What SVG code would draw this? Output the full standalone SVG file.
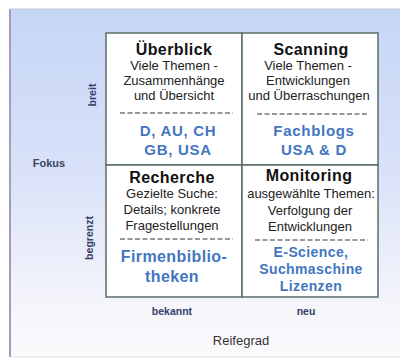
<svg xmlns="http://www.w3.org/2000/svg" width="400" height="359" viewBox="0 0 400 359">
  <defs>
    <linearGradient id="bg" x1="0" y1="0" x2="0" y2="1">
      <stop offset="0" stop-color="#c6d6f6"/>
      <stop offset="0.45" stop-color="#d8e1f8"/>
      <stop offset="0.85" stop-color="#f5f5fb"/>
      <stop offset="1" stop-color="#fbfafc"/>
    </linearGradient>
    <style>
      .title { font-family: "Liberation Sans", Arial, sans-serif; font-weight: bold; font-size: 16px; fill: #111; text-anchor: middle; letter-spacing: 0.4px; }
      .body { font-family: "Liberation Sans", Arial, sans-serif; font-size: 13px; fill: #222; text-anchor: middle; }
      .src { font-family: "Liberation Sans", Arial, sans-serif; font-weight: bold; fill: #4376bf; text-anchor: middle; }
      .axis { font-family: "Liberation Sans", Arial, sans-serif; font-weight: bold; font-size: 10.5px; fill: #37406a; text-anchor: middle; }
      .sep { stroke: #333; stroke-width: 1; stroke-dasharray: 5 2.5; }
      .cell { fill: #fff; stroke: #5a6c68; stroke-width: 1.5; }
    </style>
  </defs>

  <!-- frame background -->
  <rect x="10" y="9" width="392" height="348" fill="url(#bg)"/>
  <line x1="10" y1="9" x2="10" y2="357" stroke="#a49cbc" stroke-width="2"/>
  <line x1="10" y1="9" x2="400" y2="9" stroke="#c8c6d6" stroke-width="1"/>
  <line x1="10" y1="357" x2="400" y2="357" stroke="#e4e2ea" stroke-width="1"/>

  <!-- axis labels -->
  <g id="axes">
    <text class="axis" transform="translate(96,95) rotate(-90)">breit</text>
    <text class="axis" transform="translate(93,238) rotate(-90)">begrenzt</text>
    <text class="axis" x="49" y="167" style="font-size:11px;fill:#3c4660">Fokus</text>
    <text class="axis" x="172" y="315">bekannt</text>
    <text class="axis" x="306" y="315">neu</text>
    <text x="241" y="345" text-anchor="middle" font-family="Liberation Sans, Arial, sans-serif" font-size="13" fill="#333">Reifegrad</text>
  </g>

  <!-- quadrant: Überblick -->
  <g id="ueberblick">
    <rect class="cell" x="106" y="33" width="136" height="132"/>
    <text class="title" x="174" y="55">Überblick</text>
    <text class="body" x="174" y="70">Viele Themen -</text>
    <text class="body" x="174" y="85">Zusammenhänge</text>
    <text class="body" x="174" y="100">und Übersicht</text>
    <line class="sep" x1="120" y1="113" x2="233" y2="113"/>
    <text class="src" x="178" y="136" font-size="15" letter-spacing="0.7">D, AU, CH</text>
    <text class="src" x="178" y="155" font-size="15" letter-spacing="0.7">GB, USA</text>
  </g>

  <!-- quadrant: Scanning -->
  <g id="scanning">
    <rect class="cell" x="242" y="33" width="136" height="132"/>
    <text class="title" x="311" y="55">Scanning</text>
    <text class="body" x="308" y="70">Viele Themen -</text>
    <text class="body" x="308" y="85">Entwicklungen</text>
    <text class="body" x="309" y="100">und Überraschungen</text>
    <line class="sep" x1="257" y1="114" x2="369" y2="114"/>
    <text class="src" x="314" y="136" font-size="15" letter-spacing="0.7">Fachblogs</text>
    <text class="src" x="314" y="155" font-size="15" letter-spacing="0.7">USA &amp; D</text>
  </g>

  <!-- quadrant: Recherche -->
  <g id="recherche">
    <rect class="cell" x="106" y="165" width="136" height="132"/>
    <text class="title" x="172" y="183" letter-spacing="0.9">Recherche</text>
    <text class="body" x="172" y="198">Gezielte Suche:</text>
    <text class="body" x="172" y="214">Details; konkrete</text>
    <text class="body" x="172" y="230">Fragestellungen</text>
    <line class="sep" x1="120" y1="239" x2="233" y2="239"/>
    <text class="src" x="174" y="262" font-size="16" letter-spacing="0.4">Firmenbiblio-</text>
    <text class="src" x="172" y="282" font-size="16" letter-spacing="0.4">theken</text>
  </g>

  <!-- quadrant: Monitoring -->
  <g id="monitoring">
    <rect class="cell" x="242" y="165" width="136" height="132"/>
    <text class="title" x="309" y="181" letter-spacing="0.8">Monitoring</text>
    <text class="body" x="311" y="198">ausgewählte Themen:</text>
    <text class="body" x="310" y="215">Verfolgung der</text>
    <text class="body" x="310" y="231">Entwicklungen</text>
    <line class="sep" x1="255" y1="240" x2="368" y2="240" stroke="#888"/>
    <text class="src" x="311" y="257" font-size="14" letter-spacing="0.4">E-Science,</text>
    <text class="src" x="311" y="274" font-size="14" letter-spacing="0.4">Suchmaschine</text>
    <text class="src" x="311" y="291" font-size="14" letter-spacing="0.4">Lizenzen</text>
  </g>
</svg>
